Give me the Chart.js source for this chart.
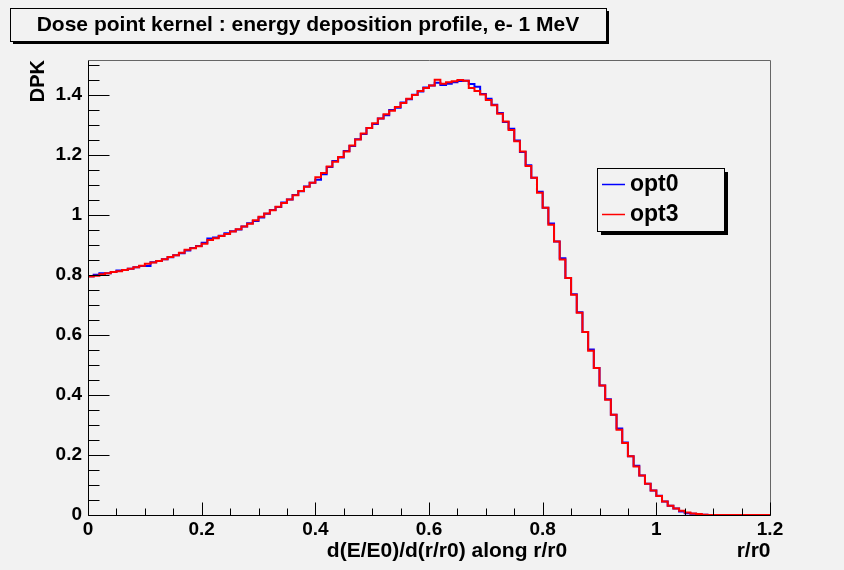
<!DOCTYPE html>
<html>
<head>
<meta charset="utf-8">
<script src="https://cdn.jsdelivr.net/npm/chart.js@4.4.0/dist/chart.umd.min.js"></script>
<style>
html,body{margin:0;padding:0;background:#f2f2f2;}
#wrap{width:844px;height:570px;position:relative;}
canvas{display:block;}
</style>
</head>
<body>
<div id="wrap"><canvas id="c" width="844" height="570"></canvas></div>
<script>
// ---------- data ----------
const chartTitle = "Dose point kernel : energy deposition profile, e- 1 MeV";
const xAxisTitle = "d(E/E0)/d(r/r0) along r/r0";
const xAxisUnit = "r/r0";
const yAxisTitle = "DPK";
const seriesNames = ["opt0", "opt3"];
const xMin = 0, xMax = 1.2, nBins = 120;
const yMin = 0, yMax = 1.517;
const xTicks = [0, 0.2, 0.4, 0.6, 0.8, 1, 1.2];
const yTicks = [0, 0.2, 0.4, 0.6, 0.8, 1, 1.2, 1.4];
const xTickLabels = ["0", "0.2", "0.4", "0.6", "0.8", "1", "1.2"];
const yTickLabels = ["0", "0.2", "0.4", "0.6", "0.8", "1", "1.2", "1.4"];
const minorStep = 0.05;

// bin contents (120 bins of width 0.01)
const opt0 = [
  0.796,0.801,0.806,0.806,0.810,0.815,0.817,0.821,0.826,0.830,
  0.830,0.843,0.847,0.853,0.859,0.866,0.873,0.882,0.890,0.897,
  0.908,0.922,0.925,0.931,0.939,0.946,0.952,0.962,0.973,0.980,
  0.992,1.004,1.017,1.027,1.042,1.052,1.067,1.079,1.095,1.108,
  1.118,1.136,1.160,1.180,1.192,1.214,1.230,1.253,1.270,1.290,
  1.304,1.322,1.333,1.350,1.358,1.375,1.386,1.401,1.412,1.425,
  1.432,1.441,1.434,1.438,1.443,1.447,1.448,1.437,1.428,1.404,
  1.388,1.368,1.340,1.310,1.288,1.249,1.210,1.166,1.124,1.078,
  1.024,0.972,0.912,0.856,0.790,0.736,0.676,0.610,0.552,0.490,
  0.432,0.386,0.334,0.288,0.242,0.196,0.164,0.132,0.104,0.082,
  0.064,0.045,0.031,0.022,0.012,0.006,0.004,0.002,0.001,0.000,
  0,0,0,0,0,0,0,0,0,0
];
const opt3 = [
  0.795,0.798,0.803,0.806,0.810,0.813,0.817,0.821,0.826,0.831,
  0.838,0.842,0.847,0.853,0.860,0.866,0.874,0.884,0.889,0.896,
  0.904,0.917,0.923,0.930,0.937,0.945,0.953,0.962,0.971,0.983,
  0.994,1.005,1.016,1.028,1.040,1.052,1.066,1.080,1.094,1.108,
  1.126,1.140,1.162,1.178,1.194,1.212,1.232,1.252,1.272,1.290,
  1.306,1.322,1.336,1.348,1.360,1.374,1.388,1.400,1.414,1.424,
  1.432,1.451,1.438,1.443,1.446,1.450,1.448,1.424,1.414,1.402,
  1.384,1.366,1.338,1.312,1.284,1.246,1.212,1.164,1.124,1.074,
  1.024,0.968,0.912,0.852,0.790,0.734,0.674,0.610,0.548,0.490,
  0.432,0.384,0.334,0.284,0.240,0.196,0.162,0.132,0.104,0.082,
  0.063,0.045,0.031,0.022,0.014,0.008,0.005,0.003,0.001,0.000,
  0,0,0,0,0,0,0,0,0,0
];

// ---------- styles ----------
const BG = '#f2f2f2';
const FONT = '"Liberation Sans", Arial, Helvetica, sans-serif';
const colors = ['#0000ff', '#ff0000'];

function toPoints(arr) {
  const w = (xMax - xMin) / nBins;
  const pts = arr.map((v, i) => ({ x: xMin + i * w, y: v }));
  pts.push({ x: xMax, y: arr[arr.length - 1] });
  return pts;
}

const rootStyle = {
  id: 'rootStyle',
  beforeDraw(chart) {
    const c = chart.ctx;
    c.save();
    c.fillStyle = BG;
    c.fillRect(0, 0, chart.width, chart.height);
    c.restore();
  },
  afterDraw(chart) {
    const c = chart.ctx, a = chart.chartArea;
    const xs = chart.scales.x, ys = chart.scales.y;
    const L = Math.round(a.left) + 0.5, R = Math.round(a.right) + 0.5;
    const T = Math.round(a.top) + 0.5, B = Math.round(a.bottom) + 0.5;
    c.save();
    // frame
    c.lineWidth = 1;
    c.strokeStyle = '#666';
    c.beginPath();
    c.moveTo(L, T); c.lineTo(R, T); c.lineTo(R, B);
    c.stroke();
    c.strokeStyle = '#000';
    c.beginPath();
    c.moveTo(L, T); c.lineTo(L, B); c.lineTo(R, B);
    c.stroke();
    // ticks (inside)
    const xMajorLen = 13, xMinorLen = 7, yMajorLen = 21, yMinorLen = 11;
    c.beginPath();
    for (let v = xMin; v <= xMax + 1e-9; v += minorStep) {
      const isMajor = xTicks.some(t => Math.abs(t - v) < 1e-6);
      const px = Math.round(xs.getPixelForValue(v)) + 0.5;
      c.moveTo(px, B);
      c.lineTo(px, B - (isMajor ? xMajorLen : xMinorLen));
    }
    for (let v = yMin; v <= yMax + 1e-9; v += minorStep) {
      const isMajor = yTicks.some(t => Math.abs(t - v) < 1e-6);
      const py = Math.round(ys.getPixelForValue(v)) + 0.5;
      c.moveTo(L, py);
      c.lineTo(L + (isMajor ? yMajorLen : yMinorLen), py);
    }
    c.stroke();

    // axis titles
    c.fillStyle = '#000';
    c.font = 'bold 21px ' + FONT;
    c.textBaseline = 'alphabetic';
    c.textAlign = 'center';
    c.fillText(xAxisTitle, 447, 557);
    c.textAlign = 'right';
    c.fillText(xAxisUnit, R, 557);
    c.save();
    c.translate(44, a.top);
    c.rotate(-Math.PI / 2);
    c.textAlign = 'right';
    c.font = 'bold 20px ' + FONT;
    c.fillText(yAxisTitle, 0, 0);
    c.restore();

    // title box
    const tb = { x: 10, y: 8, w: 596, h: 33, sh: 3 };
    c.fillStyle = '#000';
    c.fillRect(tb.x + tb.sh, tb.y + tb.sh, tb.w, tb.h);
    c.fillStyle = BG;
    c.fillRect(tb.x, tb.y, tb.w, tb.h);
    c.strokeStyle = '#000';
    c.strokeRect(tb.x + 0.5, tb.y + 0.5, tb.w, tb.h);
    c.fillStyle = '#000';
    c.font = 'bold 21px ' + FONT;
    c.textAlign = 'center';
    c.textBaseline = 'middle';
    c.fillText(chartTitle, tb.x + tb.w / 2, tb.y + tb.h / 2 + 1);

    // legend
    const lg = { x: 597, y: 168, w: 127, h: 63, sh: 4 };
    c.fillStyle = '#000';
    c.fillRect(lg.x + lg.sh, lg.y + lg.sh, lg.w, lg.h);
    c.fillStyle = BG;
    c.fillRect(lg.x, lg.y, lg.w, lg.h);
    c.strokeStyle = '#000';
    c.strokeRect(lg.x + 0.5, lg.y + 0.5, lg.w, lg.h);
    c.font = 'bold 23px ' + FONT;
    c.textAlign = 'left';
    c.textBaseline = 'middle';
    chart.data.datasets.forEach((ds, i) => {
      const yy = lg.y + 16 + i * 30;
      c.strokeStyle = ds.borderColor;
      c.lineWidth = 1.5;
      c.beginPath();
      c.moveTo(lg.x + 5, yy + 0.5);
      c.lineTo(lg.x + 28, yy + 0.5);
      c.stroke();
      c.fillStyle = '#000';
      c.fillText(ds.label, lg.x + 33, yy + 1);
    });
    c.restore();
  }
};

const tickFont = { family: FONT, size: 19, weight: 'bold' };

new Chart(document.getElementById('c'), {
  type: 'line',
  data: {
    datasets: [
      { label: seriesNames[0], data: toPoints(opt0), borderColor: colors[0], borderWidth: 2,
        stepped: 'before', pointRadius: 0, fill: false, tension: 0, order: 1 },
      { label: seriesNames[1], data: toPoints(opt3), borderColor: colors[1], borderWidth: 2,
        stepped: 'before', pointRadius: 0, fill: false, tension: 0, order: 0 }
    ]
  },
  options: {
    responsive: false,
    animation: false,
    devicePixelRatio: 1,
    layout: { padding: { left: 0, right: 74, top: 60, bottom: 0 } },
    plugins: { legend: { display: false }, title: { display: false }, tooltip: { enabled: false } },
    scales: {
      x: {
        type: 'linear', min: xMin, max: xMax,
        grid: { display: false, drawTicks: false },
        border: { display: false },
        afterBuildTicks: s => { s.ticks = xTicks.map(v => ({ value: v })); },
        afterFit: s => { s.height = 55; },
        ticks: {
          padding: 3, color: '#000', font: tickFont, maxRotation: 0, autoSkip: false,
          callback: (v) => { const i = xTicks.findIndex(t => Math.abs(t - v) < 1e-6); return i >= 0 ? xTickLabels[i] : ''; }
        }
      },
      y: {
        type: 'linear', min: yMin, max: yMax,
        grid: { display: false, drawTicks: false },
        border: { display: false },
        afterBuildTicks: s => { s.ticks = yTicks.map(v => ({ value: v })); },
        afterFit: s => { s.width = 88; },
        ticks: {
          padding: 6, color: '#000', font: tickFont, autoSkip: false,
          callback: (v) => { const i = yTicks.findIndex(t => Math.abs(t - v) < 1e-6); return i >= 0 ? yTickLabels[i] : ''; }
        }
      }
    }
  },
  plugins: [rootStyle]
});
</script>
</body>
</html>
